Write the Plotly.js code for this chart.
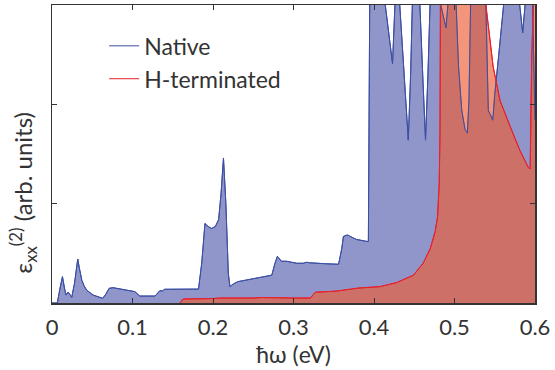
<!DOCTYPE html>
<html>
<head>
<meta charset="utf-8">
<script src="https://cdn.plot.ly/plotly-3.0.1.min.js"></script>
<style>html,body{margin:0;padding:0;background:#fff;}#chart{width:555px;height:370px;}</style>
</head>
<body>
<div id="chart"></div>
<script>
// Photon energy (eV) and epsilon_xx^(2) values (arb. units)
const nativeX = [0.000,0.0066,0.010,0.013,0.0155,0.0174,0.020,0.022,0.0245,0.028,0.032,0.034,0.037,0.040,0.043,0.051,0.063,0.067,0.071,0.076,0.090,0.103,0.109,0.128,0.134,0.137,0.140,0.160,0.182,0.186,0.190,0.194,0.198,0.203,0.207,0.210,0.213,0.216,0.219,0.221,0.225,0.231,0.250,0.273,0.277,0.280,0.285,0.2915,0.304,0.312,0.316,0.320,0.340,0.356,0.360,0.362,0.367,0.378,0.391,0.393,0.395,0.405,0.414,0.420,0.423,0.426,0.429,0.432,0.438,0.4426,0.4455,0.4476,0.452,0.457,0.461,0.464,0.467,0.4696,0.476,0.483,0.4894,0.4923,0.497,0.502,0.505,0.509,0.513,0.516,0.518,0.520,0.530,0.539,0.542,0.5475,0.550,0.555,0.561,0.572,0.581,0.5847,0.5876,0.593,0.597,0.5985,0.600];
const nativeY = [0,0,0.15,0.265,0.15,0.08,0.11,0.09,0.057,0.2,0.443,0.35,0.23,0.17,0.13,0.08,0.047,0.09,0.148,0.154,0.135,0.114,0.07,0.07,0.124,0.12,0.138,0.14,0.14,0.4,0.80,0.77,0.75,0.77,0.84,1.1,1.46,1.0,0.30,0.165,0.19,0.215,0.245,0.28,0.40,0.47,0.42,0.42,0.40,0.40,0.41,0.405,0.395,0.39,0.55,0.67,0.685,0.64,0.62,0.62,3.5,3.5,3.0,2.6,2.41,3.0,3.5,3.0,2.2,1.64,2.3,3.0,3.5,3.0,2.2,1.64,2.3,3.0,3.5,3.0,2.77,3.0,3.5,3.0,2.38,1.94,1.75,1.71,2.04,3.0,3.5,3.0,1.94,1.84,2.1,2.5,3.0,3.5,3.0,2.72,3.0,3.5,3.0,2.2,1.84];

const hX = [0.159,0.163,0.200,0.210,0.250,0.260,0.300,0.321,0.327,0.354,0.380,0.395,0.4075,0.428,0.449,0.461,0.470,0.476,0.479,0.481,0.482,0.4825,0.485,0.535,0.539,0.548,0.5565,0.569,0.581,0.592,0.594,0.596,0.597,0.600];
const hY = [0,0.04,0.045,0.05,0.05,0.055,0.05,0.05,0.108,0.12,0.15,0.155,0.165,0.205,0.28,0.40,0.55,0.72,0.87,1.2,1.71,3.0,3.5,3.5,3.0,2.38,2.04,1.78,1.54,1.36,1.35,2.5,3.0,3.5];

const seriesNames = ["Native", "H-terminated"];
const xTicks = [0, 0.1, 0.2, 0.3, 0.4, 0.5, 0.6];
const xTickText = ["0", "0.1", "0.2", "0.3", "0.4", "0.5", "0.6"];
const yTicks = [1, 2];
const yTitle = "ε<sub>xx</sub><sup>(2)</sup> (arb. units)";

const blueLine = "#3c4fa3";
const redLine = "#e8202a";
const FONT = "Lato, 'Open Sans', sans-serif";

const traces = [
  {x: nativeX, y: nativeY, type: "scatter", mode: "lines", fill: "tozeroy",
   fillcolor: "rgb(144,150,202)", line: {color: blueLine, width: 1}, showlegend: false, hoverinfo: "skip"},
  {x: hX, y: hY, type: "scatter", mode: "lines", fill: "tozeroy",
   fillcolor: "rgba(237,92,51,0.65)", line: {color: redLine, width: 1}, showlegend: false, hoverinfo: "skip"},
  {x: nativeX, y: nativeY, type: "scatter", mode: "lines", name: seriesNames[0],
   line: {color: blueLine, width: 1}},
  {x: hX, y: hY, type: "scatter", mode: "lines", name: seriesNames[1],
   line: {color: redLine, width: 1}}
];

const layout = {
  width: 555, height: 370,
  margin: {l: 52, r: 20, t: 5, b: 67},
  paper_bgcolor: "#fff", plot_bgcolor: "#fff",
  font: {family: FONT, color: "#333", size: 20},
  showlegend: true,
  legend: {x: 0.108, y: 0.935, xanchor: "left", yanchor: "top", bgcolor: "rgba(0,0,0,0)",
           font: {family: FONT, size: 23, color: "#333"}, tracegroupgap: 0, itemwidth: 30},
  xaxis: {range: [0, 0.6], tickvals: xTicks, ticktext: xTickText, ticks: "inside", ticklen: 5,
          tickcolor: "#333", showline: true, linecolor: "#333", linewidth: 1.5, mirror: "ticks",
          showgrid: false, zeroline: false, ticklabelstandoff: 4,
          tickfont: {family: FONT, size: 22, color: "#333"},
          title: {text: "ħω (eV)", font: {family: FONT, size: 23, color: "#333"}, standoff: 4}},
  yaxis: {range: [0, 3], tickvals: yTicks, showticklabels: false, ticks: "inside", ticklen: 5,
          tickcolor: "#333", showline: true, linecolor: "#333", linewidth: 1.5, mirror: "ticks",
          showgrid: false, zeroline: false},
  annotations: [{text: yTitle, xref: "paper", yref: "paper", x: -0.06, y: 0.37,
                 xanchor: "center", yanchor: "middle", textangle: -90, showarrow: false,
                 font: {family: FONT, size: 24, color: "#333"}}]
};

Plotly.newPlot("chart", traces, layout, {displayModeBar: false, staticPlot: true});
</script>
</body>
</html>
